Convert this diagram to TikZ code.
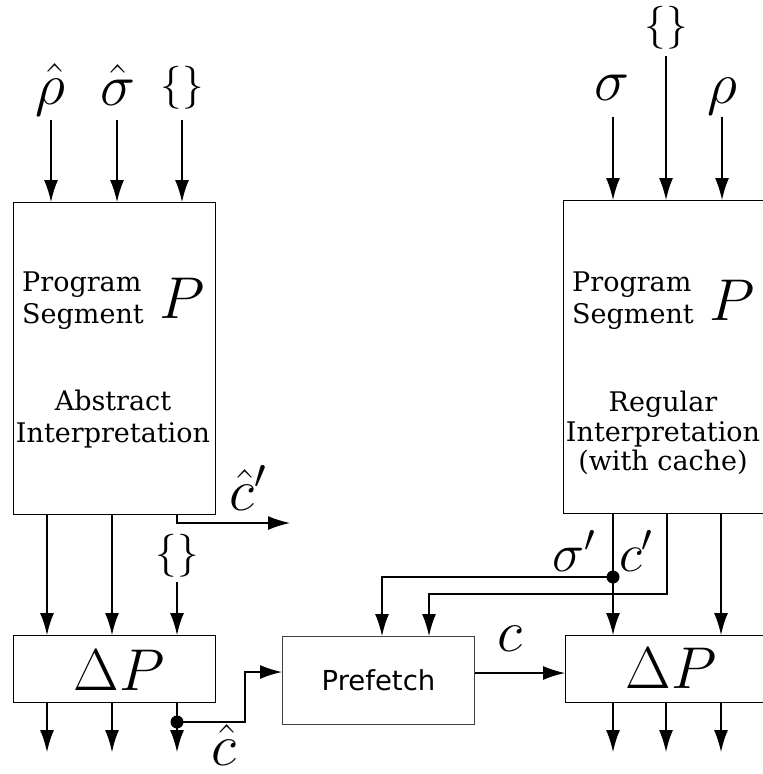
\RequirePackage{fix-cm}
\documentclass[tikz,border=0pt]{standalone}
\usepackage{fontspec}
\setmainfont{DejaVu Serif}
\newfontfamily\prefont{DejaVu Sans}
\usetikzlibrary{arrows.meta}

\begin{document}
\begin{tikzpicture}[x=1pt,y=-1pt,
  box/.style={draw, line width=1.4pt, inner sep=0pt, anchor=north west},
  lbl/.style={inner sep=0pt, font=\fontsize{59}{62}\selectfont},
  slbl/.style={inner sep=0pt, font=\fontsize{54}{58}\selectfont},
  brc/.style={inner sep=0pt, font=\fontsize{43}{45}\selectfont},
  txt/.style={inner sep=0pt, font=\fontsize{27}{32}\selectfont},
  txtr/.style={inner sep=0pt, font=\fontsize{27}{29.5}\selectfont},
  wire/.style={line width=1.4pt},
  arr/.style={wire, -{Latex[length=22pt,width=14pt]}},
  jdot/.style={circle, fill, inner sep=0pt, minimum size=13pt}]

\useasboundingbox (0,0) rectangle (763,774);
\clip (0,0) rectangle (763,774);

% ---- boxes ----
\node[box, minimum width=202pt, minimum height=312pt] (absP) at (13,202) {};
\node[box, minimum width=201pt, minimum height=313pt] (regP) at (563,200) {};
\node[box, minimum width=202pt, minimum height=67pt] (dPl) at (13,635) {};
\node[box, minimum width=202pt, minimum height=67pt] (dPr) at (565,635) {};
\node[box, draw=black!75, line width=1pt, minimum width=192pt, minimum height=88pt,
      font=\prefont\fontsize{27.5}{30}\selectfont] (pref) at (282,636) {Prefetch};

% ---- box texts ----
\node[txt, align=left, anchor=north west] (progL) at (22,272) {Program\\Segment};
\node[lbl] (pL) at (182,298) {$P$};
\node[txt, align=center] (absT) at (113,419) {Abstract\\Interpretation};
\node[txt, align=left, anchor=north west] (progR) at (572,272) {Program\\Segment};
\node[lbl] (pR) at (732,300) {$P$};
\node[txtr, align=center] (regT) at (663,433) {Regular\\Interpretation\\(with cache)};
\node[lbl] (dPlT) at (119,670) {$\Delta P$};
\node[lbl] (dPrT) at (671,668) {$\Delta P$};

% ---- input labels ----
\node[lbl] (rhohat) at (50,90) {$\hat\rho$};
\node[lbl] (sighat) at (118,85) {$\hat\sigma$};
\node[brc] (emptyL) at (182,88) {$\{\}$};
\node[lbl] (sig) at (612,88) {$\sigma$};
\node[brc] (emptyR) at (666,28) {$\{\}$};
\node[lbl] (rho) at (722,97) {$\rho$};

% ---- column coordinates ----
\coordinate (inL1) at (51,120);
\coordinate (inL2) at (117,120);
\coordinate (inL3) at (182,120);
\coordinate (inR1) at (613,117);
\coordinate (inR2) at (666,56);
\coordinate (inR3) at (722,117);
\coordinate (cL1) at (47,752);
\coordinate (cL2) at (112,752);
\coordinate (cL3) at (177,752);
\coordinate (cR1) at (613,752);
\coordinate (cR2) at (666,752);
\coordinate (cR3) at (721,752);

% ---- inputs into the program segments ----
\foreach \c in {inL1,inL2,inL3} \draw[arr] (\c) -- (\c |- absP.north);
\foreach \c in {inR1,inR2,inR3} \draw[arr] (\c) -- (\c |- regP.north);

% ---- abstract side: outputs into Delta P ----
\draw[arr] (absP.south -| cL1) -- (cL1 |- dPl.north);
\draw[arr] (absP.south -| cL2) -- (cL2 |- dPl.north);
\coordinate (cpbend) at (177,523);
\coordinate (cpend) at (290,523);
\draw[arr] (absP.south -| cpbend) -- (cpbend) -- (cpend);
\node[lbl] (chatp) at (248,488) {$\hat c'$};
\node[brc] (emptyM) at (177,556) {$\{\}$};
\coordinate (inL4) at (177,582);
\draw[arr] (inL4) -- (inL4 |- dPl.north);

% ---- Delta P outputs (left) ----
\foreach \c in {cL1,cL2,cL3} \draw[arr] (dPl.south -| \c) -- (\c);
\node[jdot] (chdot) at (177,722) {};
\coordinate (chb1) at (245,722);
\coordinate (chb2) at (245,672);
\draw[arr] (chdot.center) -- (chb1) -- (chb2) -- (chb2 -| pref.west);
\node[lbl] (chat) at (224,745) {$\hat c$};

% ---- prefetch to Delta P (right) ----
\coordinate (cy) at (474,673);
\draw[arr] (pref.east |- cy) -- (dPr.west |- cy);
\node[lbl] (clab) at (510,639) {$c$};

% ---- regular side outputs ----
\node[jdot] (sdot) at (613,577) {};
\draw[wire] (regP.south -| sdot) -- (sdot.center);
\draw[arr] (sdot.center) -- (sdot |- dPr.north);
\coordinate (sbend) at (382,577);
\draw[arr] (sdot.center) -- (sbend) -- (sbend |- pref.north);
\coordinate (cb1) at (667,594);
\coordinate (cb2) at (429,594);
\draw[arr] (regP.south -| cb1) -- (cb1) -- (cb2) -- (cb2 |- pref.north);
\draw[arr] (regP.south -| cR3) -- (cR3 |- dPr.north);
\node[slbl] (sigp) at (574,551) {$\sigma'$};
\node[slbl] (cp) at (636,551) {$c'$};

% ---- Delta P outputs (right) ----
\foreach \c in {cR1,cR2,cR3} \draw[arr] (dPr.south -| \c) -- (\c);
\end{tikzpicture}
\end{document}
